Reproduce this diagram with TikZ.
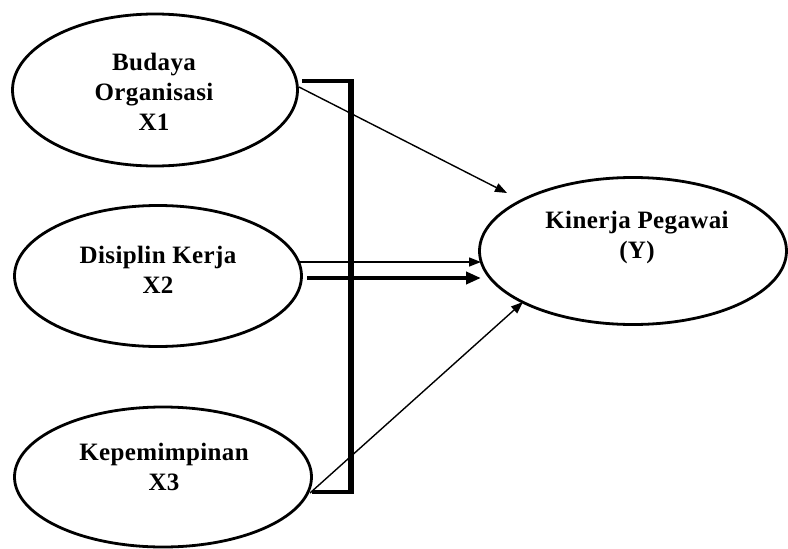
\documentclass[tikz,border=0pt]{standalone}
\usepackage{fontspec}
\setmainfont{Liberation Serif}
\newfontfamily\lblfont[LetterSpace=1.5]{Liberation Serif}
\usetikzlibrary{shapes.geometric,arrows.meta}
\tikzset{
  var/.style={ellipse, draw=black, line width=2.8pt, inner sep=0pt},
  lbl/.style={align=center, font=\lblfont\bfseries\fontsize{25pt}{30pt}\selectfont, inner sep=0pt},
  thin arrow/.style={line width=1.4pt, -{Triangle[length=12pt,width=9pt]}},
  thick arrow/.style={line width=4pt, -{Triangle[length=15pt,width=12pt]}},
  bar/.style={line width=3.6pt},
  post/.style={line width=5.5pt},
}
\begin{document}
\begin{tikzpicture}[x=1pt,y=-1pt]
\useasboundingbox (0,0) rectangle (788,549);
% ellipses
\node[var, minimum width=285pt, minimum height=152pt] (x1) at (155,90) {};
\node[var, minimum width=287pt, minimum height=141pt] (x2) at (158,276) {};
\node[var, minimum width=297pt, minimum height=140pt] (x3) at (163,477) {};
\node[var, minimum width=307pt, minimum height=147pt] (y) at (633,251) {};
% labels
\node[lbl] (t1) at (154,92) {Budaya\\Organisasi\\X1};
\node[lbl] (t2) at (158,270) {Disiplin Kerja\\X2};
\node[lbl] (t3) at (164,467) {Kepemimpinan\\X3};
\node[lbl] (ty) at (637,237) {Kinerja Pegawai\\(Y)};
% bracket
\coordinate (b1) at (302,81);
\coordinate (b2) at (351,81);
\coordinate (b3) at (351,492);
\coordinate (b4) at (312,492);
\draw[bar] (b1) -- ([xshift=2.7pt]b2);
\draw[bar] (b4) -- ([xshift=2.7pt]b3);
\draw[post] ([yshift=-1.8pt]b2) -- ([yshift=1.8pt]b3);
% arrows
\coordinate (a1s) at (299,87);
\coordinate (a1e) at (507,193);
\draw[thin arrow] (a1s) -- (a1e);
\coordinate (a2s) at (299,262);
\coordinate (a2e) at (481,262);
\draw[thin arrow] (a2s) -- (a2e);
\coordinate (a3s) at (307,278);
\coordinate (a3e) at (481,278);
\draw[thick arrow] (a3s) -- (a3e);
\coordinate (a4s) at (310,493);
\coordinate (a4e) at (523,302);
\draw[thin arrow] (a4s) -- (a4e);
\end{tikzpicture}
\end{document}
